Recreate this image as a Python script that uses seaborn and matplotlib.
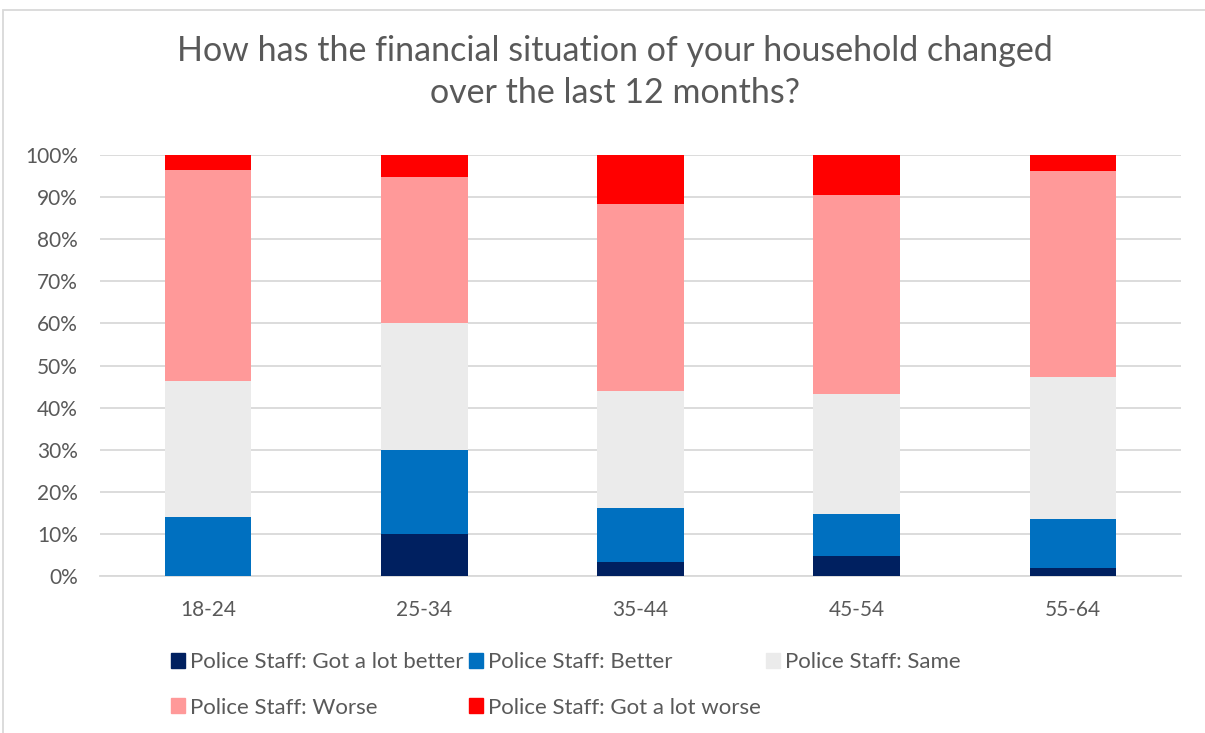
import matplotlib
matplotlib.use("Agg")
import matplotlib.pyplot as plt
import matplotlib.patches as mpatches
import seaborn as sns
import numpy as np
import pandas as pd

# Survey responses by age group (% of respondents)
age_groups = ["18-24", "25-34", "35-44", "45-54", "55-64"]
lot_better = [0.0, 10.0, 3.3, 4.8, 1.8]
better = [14.0, 20.0, 12.9, 10.0, 11.7]
same = [32.3, 30.0, 27.8, 28.5, 33.7]
worse = [50.1, 34.8, 44.4, 47.2, 49.1]
lot_worse = [3.6, 5.2, 11.6, 9.5, 3.7]

series_names = [
    "Police Staff: Got a lot better",
    "Police Staff: Better",
    "Police Staff: Same",
    "Police Staff: Worse",
    "Police Staff: Got a lot worse",
]
series_values = [lot_better, better, same, worse, lot_worse]
colors = ["#002060", "#0070C0", "#EBEBEB", "#FF9999", "#FF0000"]

TEXT = "#595959"
GRID = "#D9D9D9"

sns.set_theme(style="white")
plt.rcParams["font.family"] = ["Lato", "DejaVu Sans"]

fig = plt.figure(figsize=(12.05, 7.33), dpi=100)
ax = fig.add_axes([100 / 1205, 1 - 576 / 733, 1081 / 1205, 421 / 733])

# Stacked bars: draw cumulative totals from the top segment down
cum = np.cumsum(np.array(series_values), axis=0)
for i in range(len(series_names) - 1, -1, -1):
    df = pd.DataFrame({"age": age_groups, "value": cum[i]})
    sns.barplot(data=df, x="age", y="value", color=colors[i], width=0.4,
                saturation=1, linewidth=0, ax=ax, zorder=3)

ax.set_ylim(0, 100)
ax.set_xlim(-0.5, len(age_groups) - 0.5)
ax.set_yticks(np.arange(0, 101, 10))
ax.set_yticklabels([f"{v}%" for v in range(0, 101, 10)])
ax.set_xlabel("")
ax.set_ylabel("")
ax.yaxis.grid(True, color=GRID, linewidth=1.3, zorder=0)
ax.set_axisbelow(True)
for s in ["top", "right", "left"]:
    ax.spines[s].set_visible(False)
ax.spines["bottom"].set_color(GRID)
ax.spines["bottom"].set_linewidth(1.3)
ax.tick_params(axis="both", length=0, labelsize=15, colors=TEXT)
ax.tick_params(axis="y", pad=16)
ax.tick_params(axis="x", pad=17)

fig.text(615 / 1205, 1 - 72 / 733, "How has the financial situation of your household changed\nover the last 12 months?",
         ha="center", va="center", fontsize=24.5, color=TEXT, linespacing=1.38)

# Legend laid out row by row
handles = [mpatches.Patch(color=c, label=n) for c, n in zip(colors, series_names)]
order = [0, 3, 1, 4, 2]
leg = fig.legend([handles[i] for i in order], [series_names[i] for i in order],
                 ncol=3, loc="upper left", bbox_to_anchor=(171 / 1205, 1 - 652 / 733),
                 frameon=False, fontsize=16, labelcolor=TEXT, handlelength=0.65,
                 handleheight=0.65, handletextpad=0.22, columnspacing=0.22,
                 labelspacing=1.15, borderpad=0, borderaxespad=0)

# Chart-area border
fig.patches.append(mpatches.Rectangle((3 / 1205, -0.01), 1.0, 1 - 10 / 733 + 0.01,
                                      transform=fig.transFigure, fill=False,
                                      edgecolor=GRID, linewidth=1.3))

fig.savefig("out.png", dpi=100)
